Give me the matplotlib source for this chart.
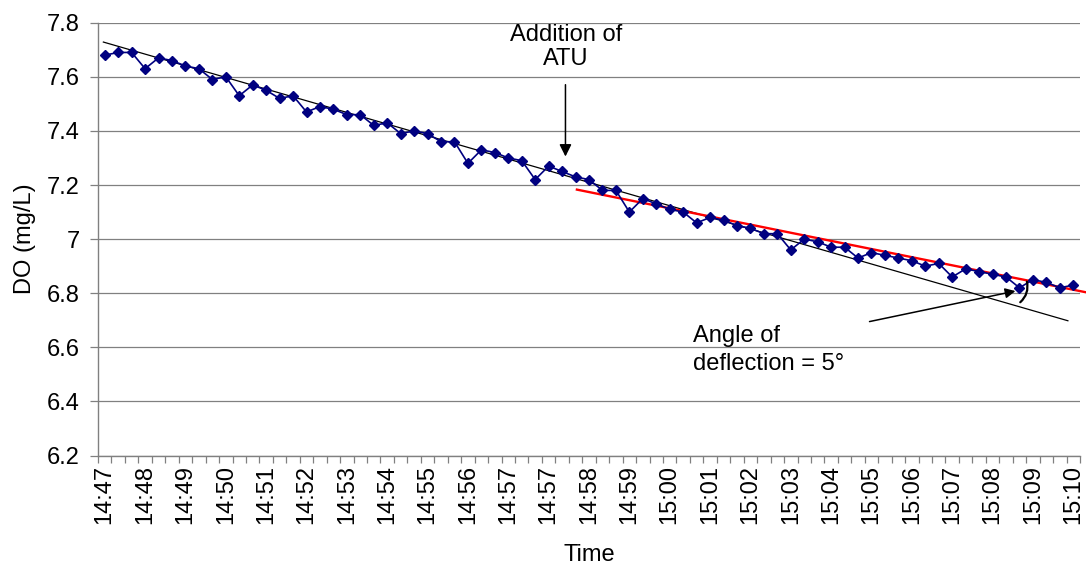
import matplotlib
matplotlib.use("Agg")
import matplotlib.pyplot as plt
import numpy as np
from matplotlib.patches import FancyArrowPatch
from matplotlib.ticker import FuncFormatter, MultipleLocator

plt.rcParams['font.family'] = ['Liberation Sans', 'DejaVu Sans']

# ---------------- data ----------------
do_values = [
    7.68, 7.69, 7.69, 7.63, 7.67, 7.66, 7.64, 7.63, 7.59, 7.60,
    7.53, 7.57, 7.55, 7.52, 7.53, 7.47, 7.49, 7.48, 7.46, 7.46,
    7.42, 7.43, 7.39, 7.40, 7.39, 7.36, 7.36, 7.28, 7.33, 7.32,
    7.30, 7.29, 7.22, 7.27, 7.25, 7.23, 7.22, 7.18, 7.18, 7.10,
    7.15, 7.13, 7.11, 7.10, 7.06, 7.08, 7.07, 7.05, 7.04, 7.02,
    7.02, 6.96, 7.00, 6.99, 6.97, 6.97, 6.93, 6.95, 6.94, 6.93,
    6.92, 6.90, 6.91, 6.86, 6.89, 6.88, 6.87, 6.86, 6.82, 6.85,
    6.84, 6.82, 6.83,
]
time_labels = [
    "14:47", "14:48", "14:49", "14:50", "14:51", "14:52", "14:53",
    "14:54", "14:55", "14:56", "14:57", "14:57", "14:58", "14:59",
    "15:00", "15:01", "15:02", "15:03", "15:04", "15:05", "15:06",
    "15:07", "15:08", "15:09", "15:10",
]
label_every = 3

# trend lines (value at index 0, slope per sample, index range)
pre_trend_intercept = 7.727
pre_trend_slope = -0.01437
pre_trend_range = (-0.1, 71.6)
post_trend_intercept = 7.535
post_trend_slope = -0.01003
post_trend_range = (35.1, 72.9)

# ---------------- figure ----------------
fig = plt.figure(figsize=(10.86, 5.67), dpi=100)
ax = fig.add_axes([98 / 1086, 1 - 455.5 / 567, (1080 - 98) / 1086, (455.5 - 22.7) / 567])

n = len(do_values)
x = np.arange(n)
fs = 17
gray = '#808080'

ax.set_ylim(6.2, 7.8)
ax.set_xlim(-0.5, n - 0.5)
ax.yaxis.set_major_locator(MultipleLocator(0.2))
ax.yaxis.set_major_formatter(FuncFormatter(lambda v, p: f"{v:g}" if abs(v - round(v)) > 1e-9 else f"{int(round(v))}"))
ax.grid(axis='y', color=gray, linewidth=0.9)
ax.set_axisbelow(True)

for s in ['top', 'right']:
    ax.spines[s].set_visible(False)
for s in ['left', 'bottom']:
    ax.spines[s].set_color(gray)
    ax.spines[s].set_linewidth(1.0)

ax.tick_params(axis='y', direction='out', length=6, width=0.9, color=gray, pad=7, labelsize=fs)

label_pos = x[::label_every]
ax.set_xticks(label_pos)
ax.set_xticklabels(time_labels, rotation=90, fontsize=fs)
ax.tick_params(axis='x', which='major', length=0, pad=7)
ax.set_xticks(np.arange(-0.5, n, 1.0), minor=True)
ax.tick_params(axis='x', which='minor', direction='out', length=5, width=0.9, color=gray)

# trend lines
xr = np.array(pre_trend_range)
ax.plot(xr, pre_trend_intercept + pre_trend_slope * xr, color='black', linewidth=0.9, zorder=3)
xr2 = np.array(post_trend_range)
ax.plot(xr2, post_trend_intercept + post_trend_slope * xr2, color='#ff0000', linewidth=1.7,
        zorder=3, clip_on=False)

# data series
ax.plot(x, do_values, color='#000080', linewidth=1.2, marker='D', markersize=5.0,
        markerfacecolor='#000080', markeredgecolor='#000080', zorder=4)

ax.set_xlabel("Time", fontsize=fs, labelpad=14)
ax.set_ylabel("DO (mg/L)", fontsize=fs, labelpad=8)

# annotations
ax.text(34.3, 7.71, "Addition of\nATU", ha='center', va='center', fontsize=fs, linespacing=1.15)
ax.annotate('', xy=(34.25, 7.295), xytext=(34.25, 7.581),
            arrowprops=dict(arrowstyle='-|>', color='black', lw=1.1, mutation_scale=18))

ax.text(43.7, 6.59, "Angle of\ndeflection = 5°", ha='left', va='center', fontsize=fs, linespacing=1.3)
ax.annotate('', xy=(67.9, 6.81), xytext=(56.65, 6.693),
            arrowprops=dict(arrowstyle='-|>', color='black', lw=1.1, mutation_scale=15))
arc = FancyArrowPatch((68.5, 6.853), (67.9, 6.76), arrowstyle='-', connectionstyle='arc3,rad=-0.35',
                      color='black', linewidth=1.6, zorder=5)
ax.add_patch(arc)

fig.savefig("out.png", dpi=100)
